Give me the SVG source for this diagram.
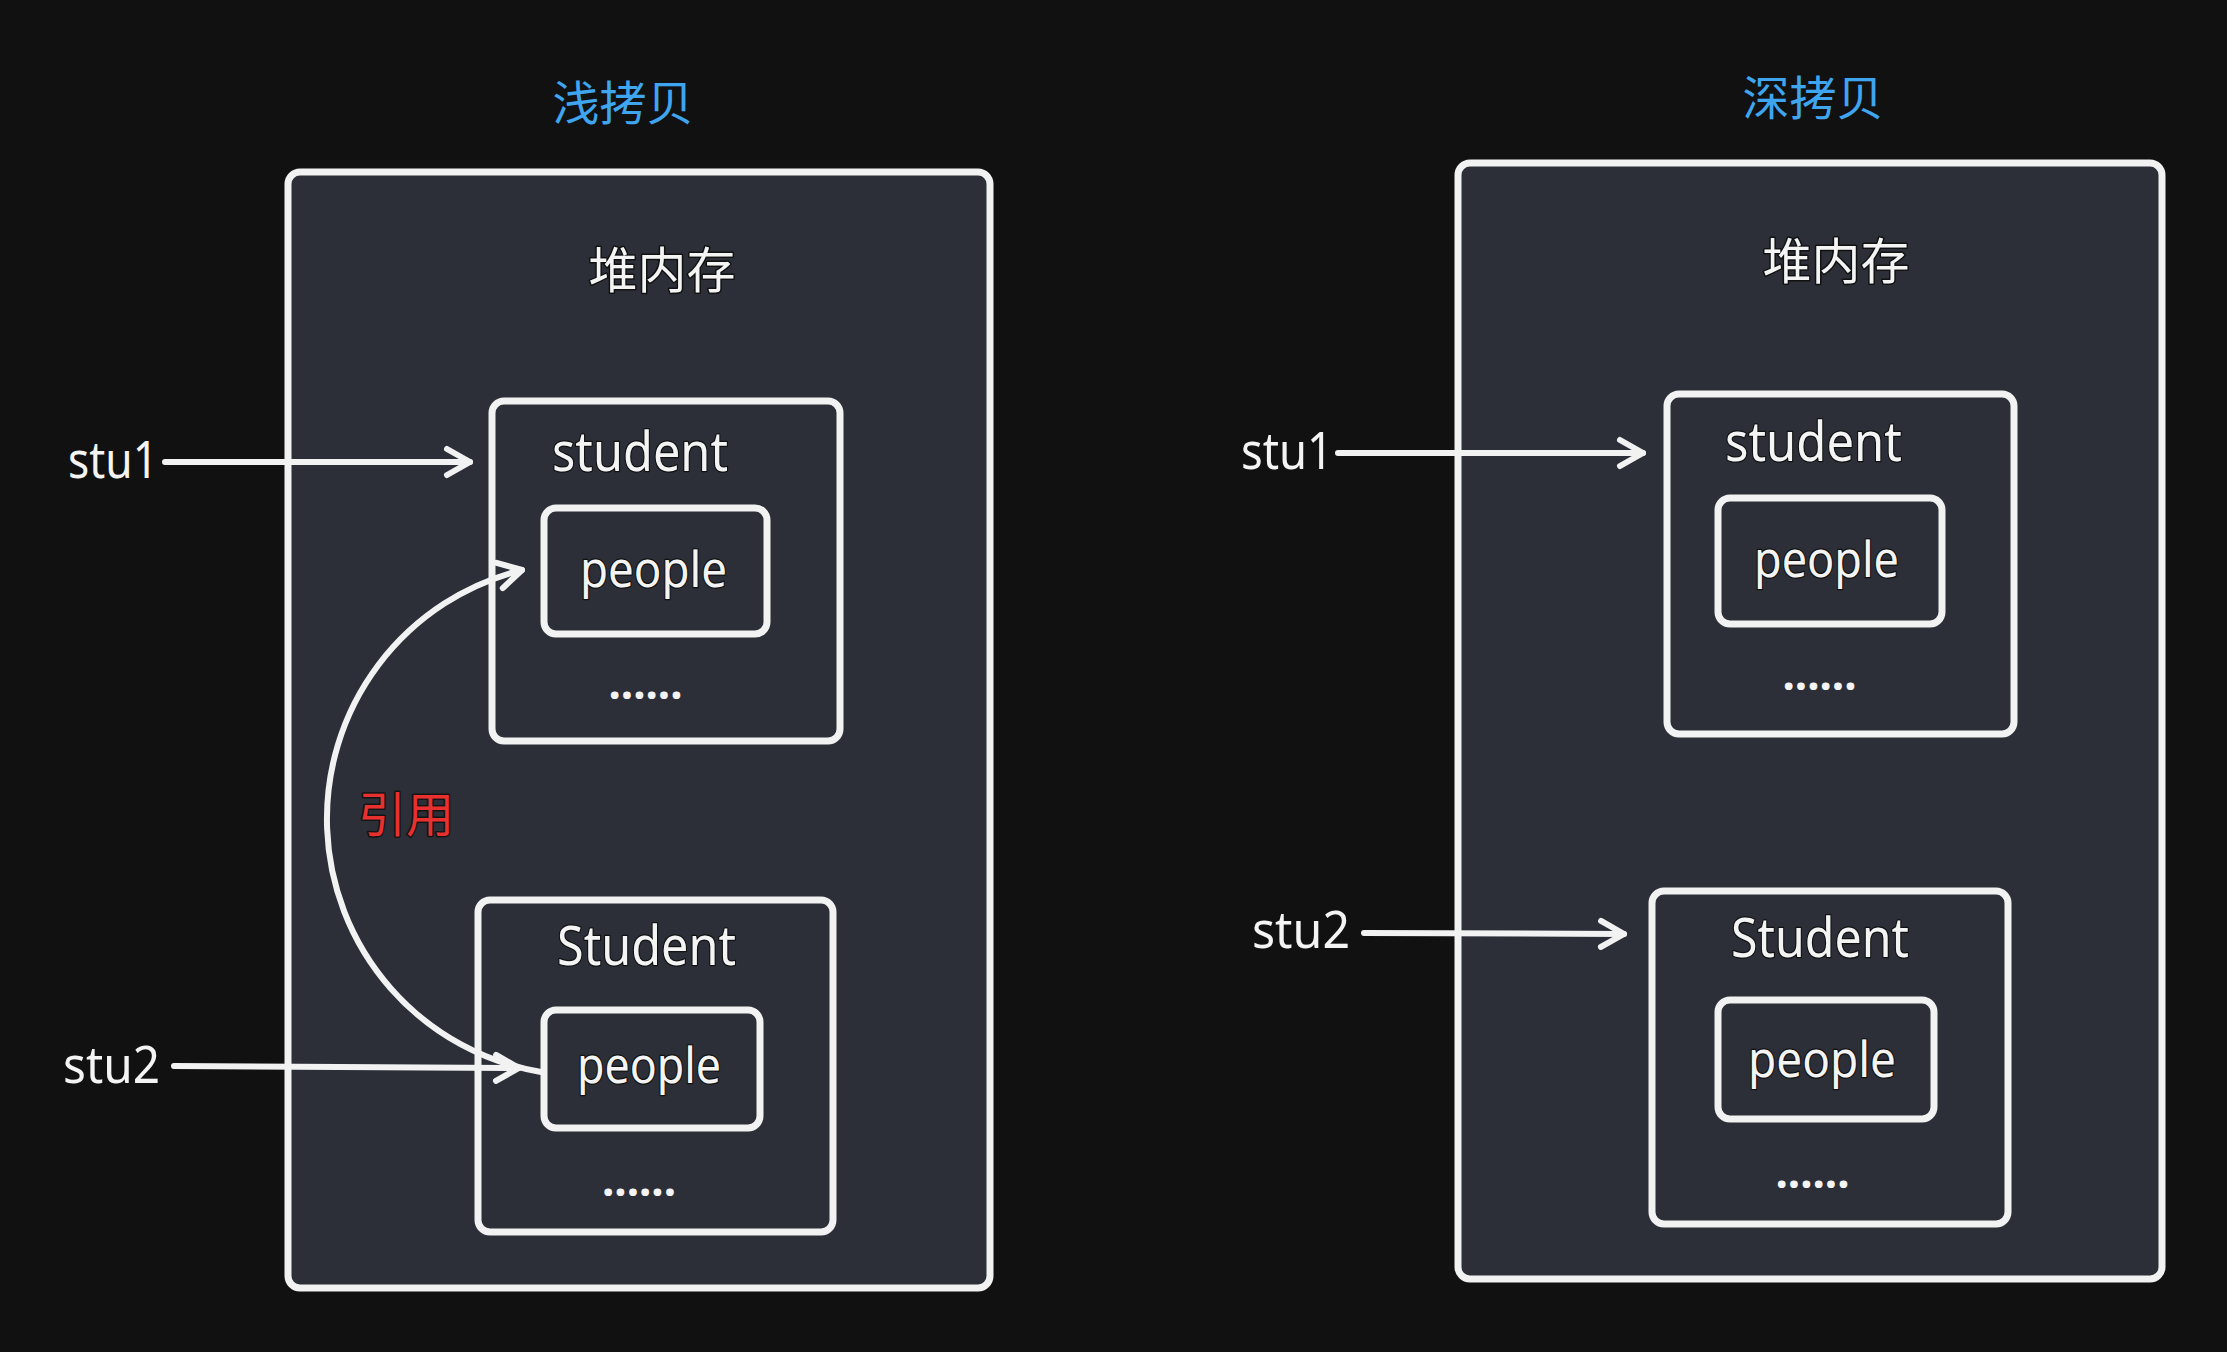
<svg xmlns="http://www.w3.org/2000/svg" width="2227" height="1352" viewBox="0 0 2227 1352">
<style>
.bg{fill:#111111}
.box{fill:#2c2f37;stroke:#f2f2f2;stroke-width:7;stroke-linejoin:round}
.title{font-family:"Noto Sans CJK SC","Noto Sans",sans-serif;font-size:47px;fill:#3fa5ef;text-anchor:middle}
.cjk{font-family:"Noto Sans CJK SC","Noto Sans",sans-serif;font-size:49px;fill:#f4f4f4;text-anchor:middle;stroke:#111111;stroke-width:3;paint-order:stroke;stroke-linejoin:round}
.red{font-family:"Noto Sans CJK SC","Noto Sans",sans-serif;font-size:48px;fill:#e8312f;text-anchor:middle;stroke:#141414;stroke-width:3;paint-order:stroke;stroke-linejoin:round}
.lbl{font-family:"Noto Sans","Open Sans",sans-serif;fill:#f4f4f4;stroke:#111111;stroke-width:2.5;paint-order:stroke;stroke-linejoin:round}
.big{font-size:55px}
.mid{font-size:50px}
.var{font-family:"Noto Sans","Open Sans",sans-serif;font-size:51px;fill:#f4f4f4}
.dots{font-family:"Noto Sans","Open Sans",sans-serif;font-size:44px;font-weight:bold;fill:#f4f4f4;text-anchor:middle}
.conn{fill:none;stroke:#f2f2f2;stroke-width:6;stroke-linecap:round;stroke-linejoin:round}
</style>
<defs>
<marker id="arr" markerUnits="userSpaceOnUse" viewBox="-30 -20 36 40" refX="0" refY="0" markerWidth="36" markerHeight="40" orient="auto">
<path d="M-23,-13 L0,0 L-23,13" fill="none" stroke="#f2f2f2" stroke-width="6" stroke-linecap="round" stroke-linejoin="round"/>
</marker>
</defs>
<rect class="bg" x="0" y="0" width="2227" height="1352"/>

<g id="shallow">
<text class="title" x="623" y="120">浅拷贝</text>
<g id="heap-left">
<rect class="box" x="288" y="172" width="702" height="1116" rx="12"/>
<text class="cjk" x="662" y="288">堆内存</text>
</g>
<g id="student-left">
<rect class="box" x="492" y="401" width="348" height="340" rx="12"/>
<text class="lbl big" x="552" y="471" textLength="176" lengthAdjust="spacingAndGlyphs">student</text>
<text class="dots" x="645.5" y="699">......</text>
</g>
<g id="people-left-1">
<rect class="box" x="544" y="508" width="223" height="126" rx="12"/>
<text class="lbl mid" x="580" y="587" textLength="147" lengthAdjust="spacingAndGlyphs">people</text>
</g>
<g id="Student-left">
<rect class="box" x="478" y="900" width="355" height="332" rx="12"/>
<text class="lbl big" x="557" y="965" textLength="179" lengthAdjust="spacingAndGlyphs">Student</text>
<text class="dots" x="639" y="1196">......</text>
</g>
<g id="people-left-2">
<rect class="box" x="544" y="1010" width="216" height="118" rx="12"/>
<text class="lbl mid" x="577" y="1083" textLength="144" lengthAdjust="spacingAndGlyphs">people</text>
</g>
<g id="stu1-left">
<text class="var" x="68" y="478" textLength="90" lengthAdjust="spacingAndGlyphs">stu1</text>
</g>
<g id="stu2-left">
<text class="var" x="63" y="1083" textLength="97" lengthAdjust="spacingAndGlyphs">stu2</text>
</g>
<g id="ref-label">
<text class="red" x="406" y="832">引用</text>
</g>
</g>

<g id="deep">
<text class="title" x="1813" y="115">深拷贝</text>
<g id="heap-right">
<rect class="box" x="1458" y="163" width="704" height="1116" rx="12"/>
<text class="cjk" x="1836" y="279">堆内存</text>
</g>
<g id="student-right">
<rect class="box" x="1667" y="394" width="347" height="340" rx="12"/>
<text class="lbl big" x="1725" y="461" textLength="177" lengthAdjust="spacingAndGlyphs">student</text>
<text class="dots" x="1819.5" y="690">......</text>
</g>
<g id="people-right-1">
<rect class="box" x="1718" y="498" width="224" height="126" rx="12"/>
<text class="lbl mid" x="1754" y="577" textLength="145" lengthAdjust="spacingAndGlyphs">people</text>
</g>
<g id="Student-right">
<rect class="box" x="1652" y="891" width="356" height="333" rx="12"/>
<text class="lbl big" x="1731" y="957" textLength="178" lengthAdjust="spacingAndGlyphs">Student</text>
<text class="dots" x="1812.5" y="1188">......</text>
</g>
<g id="people-right-2">
<rect class="box" x="1718" y="1000" width="216" height="119" rx="12"/>
<text class="lbl mid" x="1748" y="1077" textLength="148" lengthAdjust="spacingAndGlyphs">people</text>
</g>
<g id="stu1-right">
<text class="var" x="1241" y="469" textLength="92" lengthAdjust="spacingAndGlyphs">stu1</text>
</g>
<g id="stu2-right">
<text class="var" x="1252" y="948" textLength="98" lengthAdjust="spacingAndGlyphs">stu2</text>
</g>
</g>

<g id="connectors">
<path class="conn" d="M165,462 L470,462" marker-end="url(#arr)"/>
<path class="conn" d="M174,1066 L519,1068" marker-end="url(#arr)"/>
<path class="conn" d="M541,1072 A256.5 256.5 0 0 1 522,570" marker-end="url(#arr)"/>
<path class="conn" d="M1338,453 L1643,453" marker-end="url(#arr)"/>
<path class="conn" d="M1364,933 L1624,934" marker-end="url(#arr)"/>
</g>
</svg>
